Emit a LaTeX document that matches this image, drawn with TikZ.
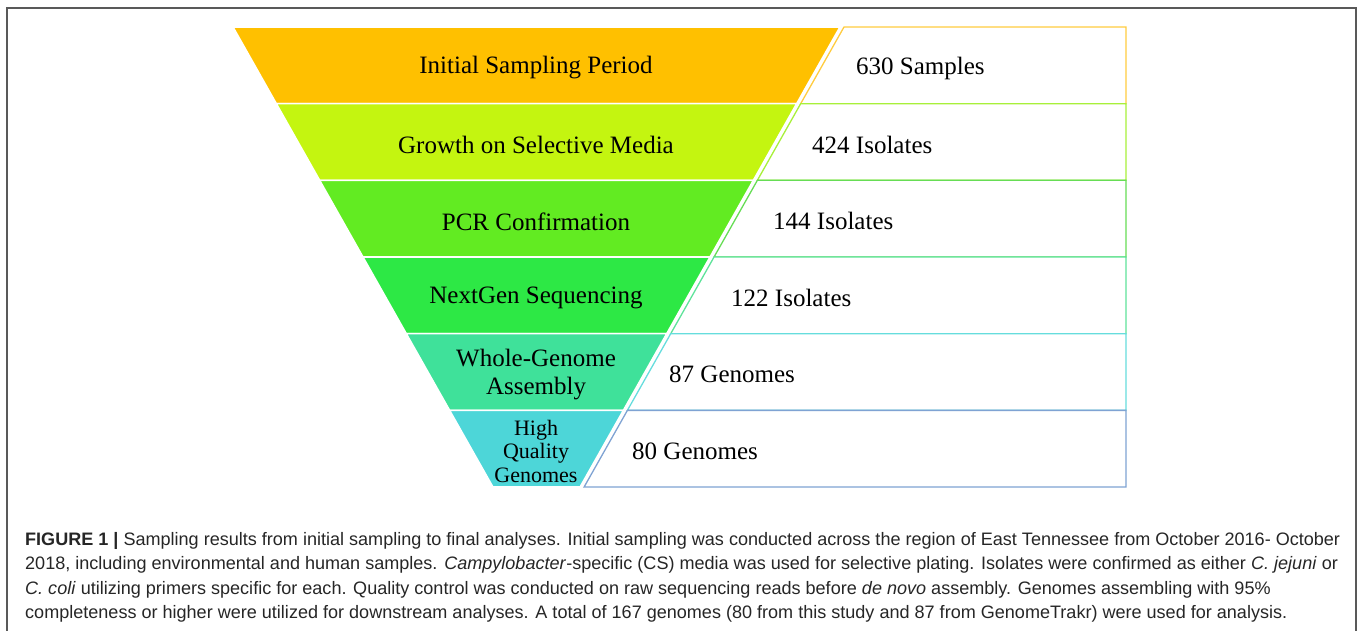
\documentclass[tikz,border=0pt]{standalone}
\usepackage{fontspec}
\setmainfont{Liberation Serif}
\setsansfont{Liberation Sans}
\usetikzlibrary{positioning}
\definecolor{bandA}{HTML}{FFC000}
\definecolor{bandB}{HTML}{C4F510}
\definecolor{bandC}{HTML}{62EB22}
\definecolor{bandD}{HTML}{2DE845}
\definecolor{bandE}{HTML}{3FE19A}
\definecolor{bandF}{HTML}{4DD6D8}
\definecolor{edgeA}{HTML}{FFCC40}
\definecolor{edgeB}{HTML}{A8F03A}
\definecolor{edgeC}{HTML}{66DD55}
\definecolor{edgeD}{HTML}{5EE39A}
\definecolor{edgeE}{HTML}{66DDDD}
\definecolor{edgeF}{HTML}{7FA3D3}
\newcommand{\myFrameColor}{black!65}

\begin{document}
\begin{tikzpicture}[x=1pt,y=-1pt,
	Band/.style={draw=white,line width=1.6pt},
	Box/.style={fill=white,line width=1.3pt},
	Stage/.style={align=center,font=\fontsize{25}{28}\selectfont},
	SmallStage/.style={align=center,font=\fontsize{22}{23.5}\selectfont},
	Count/.style={anchor=west,inner sep=0pt,font=\fontsize{25}{28}\selectfont},
	Caption/.style={anchor=base west,inner sep=0pt,text=black!85,font=\sffamily\fontsize{18.05}{20}\selectfont},
]
	\useasboundingbox (0,0) rectangle (1358,631);
	\draw[\myFrameColor,line width=2pt] (7,631) -- (7,8) -- (1356,8) -- (1356,631);
	
	% funnel bands and count boxes
	\foreach \i/\col/\edg/\sty/\stage/\cx/\cnt in {
		1/bandA/edgeA/Stage/{Initial Sampling Period}/856/{630 Samples},
		2/bandB/edgeB/Stage/{Growth on Selective Media}/812/{424 Isolates},
		3/bandC/edgeC/Stage/{PCR Confirmation}/773/{144 Isolates},
		4/bandD/edgeD/Stage/{NextGen Sequencing}/731/{122 Isolates},
		5/bandE/edgeE/Stage/{Whole-Genome\\Assembly}/669/{87 Genomes},
		6/bandF/edgeF/SmallStage/{High\\Quality\\Genomes}/632/{80 Genomes}}
	{
		\pgfmathsetmacro{\yt}{27+76.67*(\i-1)}
		\pgfmathsetmacro{\yb}{\yt+76.67}
		\pgfmathsetmacro{\ym}{\yt+41}
		\pgfmathsetmacro{\lt}{233+0.565*(\yt-27)}
		\pgfmathsetmacro{\lb}{233+0.565*(\yb-27)}
		\pgfmathsetmacro{\rt}{840-0.565*(\yt-27)}
		\pgfmathsetmacro{\rb}{840-0.565*(\yb-27)}
		\draw[Box,draw=\edg] (\rt+4,\yt) -- (1126,\yt) -- (1126,\yb) -- (\rb+4,\yb) -- cycle;
		\draw[Band,fill=\col] (\lt,\yt) -- (\rt,\yt) -- (\rb,\yb) -- (\lb,\yb) -- cycle;
		\node[\sty] (stage\i) at (536,\ym) {\stage};
		\node[Count] (count\i) at (\cx,\ym) {\cnt};
	}
	
	% caption
	\node[Caption] (capA) at (25,545) {\textbf{FIGURE 1 |} Sampling results from initial sampling to final analyses. Initial sampling was conducted across the region of East Tennessee from October 2016- October};
	\node[Caption] (capB) at (25,569.5) {2018, including environmental and human samples. \textit{Campylobacter}-specific (CS) media was used for selective plating. Isolates were confirmed as either \textit{C. jejuni} or};
	\node[Caption] (capC) at (25,594) {\textit{C. coli} utilizing primers specific for each. Quality control was conducted on raw sequencing reads before \textit{de novo} assembly. Genomes assembling with 95\%};
	\node[Caption] (capD) at (25,618.5) {completeness or higher were utilized for downstream analyses. A total of 167 genomes (80 from this study and 87 from GenomeTrakr) were used for analysis.};
\end{tikzpicture}
\end{document}
